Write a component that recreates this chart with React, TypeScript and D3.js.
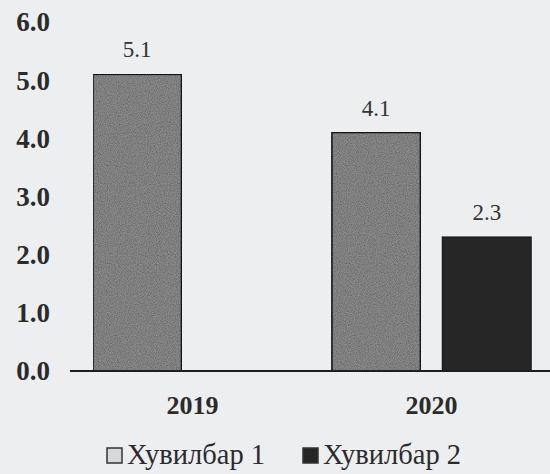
import { useMemo } from 'react';
import * as d3 from 'd3';

// chart values
const years = ['2019', '2020'];
const seriesNames = ['Хувилбар 1', 'Хувилбар 2'];
const variant1 = [5.1, 4.1];
const variant2: (number | null)[] = [null, 2.3];
const yTicks = [0, 1, 2, 3, 4, 5, 6];

const W = 550;
const H = 474;
const margin = { top: 22, right: 19, bottom: 103, left: 93 };
const FONT = '"Liberation Serif", "Times New Roman", serif';

const App = () => {
  const values = [variant1, variant2];

  const x = useMemo(
    () => d3.scaleBand<string>()
      .domain(years)
      .range([margin.left, W - margin.right])
      .paddingInner(0.167)
      .paddingOuter(0),
    []
  );

  const xInner = useMemo(
    () => d3.scaleBand<string>()
      .domain(seriesNames)
      .range([0, x.bandwidth()])
      .paddingInner(0.2),
    [x]
  );

  const y = useMemo(
    () => d3.scaleLinear().domain([0, 6]).range([H - margin.bottom, margin.top]),
    []
  );

  const fills = ['#8d8d8d', '#262626'];

  return (
    <svg width={W} height={H} style={{ position: 'absolute', left: 0, top: 0, background: '#eceef0' }}>
      <defs>
        {/* speckled look of the scanned grey bars */}
        <filter id="grain" x="0" y="0" width="100%" height="100%">
          <feTurbulence type="fractalNoise" baseFrequency="0.9" numOctaves="2" seed="3" result="noise" />
          <feColorMatrix in="noise" type="matrix"
            values="0 0 0 0 0  0 0 0 0 0  0 0 0 0 0  0 0 0 0.9 -0.25" result="dots" />
          <feComposite in="dots" in2="SourceGraphic" operator="in" result="clipped" />
          <feMerge>
            <feMergeNode in="SourceGraphic" />
            <feMergeNode in="clipped" />
          </feMerge>
        </filter>
      </defs>

      {/* y tick labels */}
      {yTicks.map(t => (
        <text key={t} x={50} y={y(t)} dy="0.35em" textAnchor="end"
          fontFamily={FONT} fontWeight="bold" fontSize={27} fill="#2b2b2b">
          {d3.format('.1f')(t)}
        </text>
      ))}

      {/* bars */}
      {years.map((yr, i) => (
        <g key={yr} transform={`translate(${x(yr)},0)`}>
          {seriesNames.map((s, j) => {
            const v = values[j][i];
            if (v == null) return null;
            const bx = xInner(s)!;
            return (
              <g key={s}>
                <rect x={bx} y={y(v)} width={xInner.bandwidth()} height={y(0) - y(v)}
                  fill={fills[j]} stroke="#1e1e1e" strokeWidth={1.6}
                  filter={j === 0 ? 'url(#grain)' : undefined} />
                <text x={bx + xInner.bandwidth() / 2} y={y(v) - 17} textAnchor="middle"
                  fontFamily={FONT} fontSize={23} fill="#333">
                  {v.toFixed(1)}
                </text>
              </g>
            );
          })}
          <text x={x.bandwidth() / 2} y={414} textAnchor="middle"
            fontFamily={FONT} fontWeight="bold" fontSize={26} fill="#2b2b2b">
            {yr}
          </text>
        </g>
      ))}

      {/* baseline */}
      <line x1={70} x2={W} y1={y(0)} y2={y(0)} stroke="#1e1e1e" strokeWidth={2} />

      {/* legend */}
      {seriesNames.map((s, j) => {
        const lx = j === 0 ? 107 : 303;
        return (
          <g key={s} transform={`translate(${lx},464)`}>
            <rect x={0} y={-16} width={15} height={15}
              fill={j === 0 ? '#d6d8da' : '#262626'} stroke="#333" strokeWidth={1.5} />
            <text x={20} y={0} fontFamily={FONT} fontSize={28.5} fill="#2b2b2b">{s}</text>
          </g>
        );
      })}
    </svg>
  );
};

export default App;
